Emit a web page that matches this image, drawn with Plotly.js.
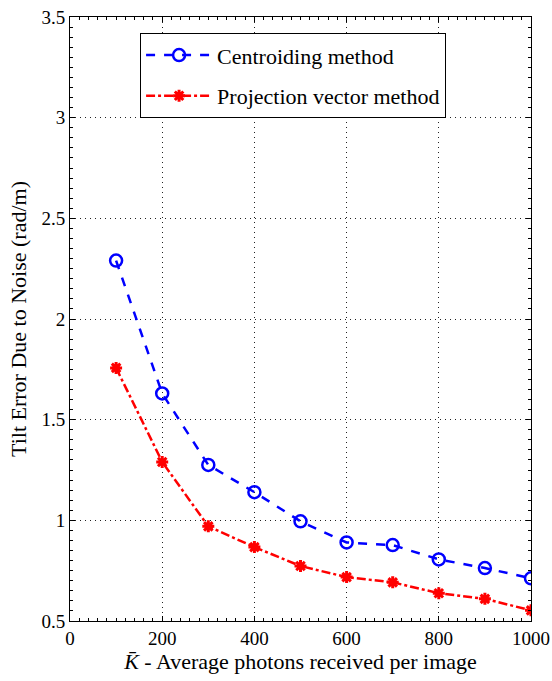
<!DOCTYPE html>
<html><head><meta charset="utf-8">
<script src="https://cdn.plot.ly/plotly-3.0.1.min.js"></script>
<style>html,body{margin:0;padding:0;background:#fff}#c{width:552px;height:681px}</style>
</head><body><div id="c"></div>
<script>
const photons = [100,200,300,400,500,600,700,800,900,1000];
const centroiding = [2.29,1.63,1.275,1.14,0.995,0.89,0.877,0.806,0.763,0.712];
const projection = [1.757,1.29,0.97,0.867,0.773,0.718,0.692,0.638,0.61,0.553];
const xTicks = [0,200,400,600,800,1000];
const yTicks = [0.5,1,1.5,2,2.5,3,3.5];
const fontFam = '"Liberation Serif", "DejaVu Serif", serif';

const traces = [
 {x: photons, y: centroiding, name: 'Centroiding method', mode:'lines+markers', legendgroup:'a',
  line:{color:'#0000ff', width:2.5, dash:'dash'},
  marker:{symbol:'circle-open', size:12, color:'#0000ff', line:{width:2.5, color:'#0000ff'}}},
 {x: photons, y: projection, name: 'Projection vector method', mode:'lines+markers', legendgroup:'b',
  line:{color:'#ff0000', width:2.5, dash:'dashdot'},
  marker:{symbol:'asterisk-open', size:10, color:'#ff0000', line:{width:3, color:'#ff0000'}}}
];
const axisCommon = {
  showline:true, mirror:'ticks', linecolor:'#000', linewidth:1,
  ticks:'inside', ticklen:5, tickcolor:'#000',
  showgrid:true, gridcolor:'#222', griddash:'1px,4px', gridwidth:1,
  zeroline:false, tickfont:{family:fontFam, size:19, color:'#000'}
};
const layout = {
  width:552, height:681,
  margin:{l:70, r:21, t:17, b:60},
  paper_bgcolor:'#fff', plot_bgcolor:'#fff',
  font:{family:fontFam, color:'#000'},
  showlegend:true,
  legend:{x:0.152, y:0.973, xanchor:'left', yanchor:'top', bordercolor:'#000', borderwidth:1,
    bgcolor:'#fff', font:{family:fontFam, size:22, color:'#000'}, tracegroupgap:9, itemwidth:66},
  xaxis: Object.assign({}, axisCommon, {range:[0,1000], tickvals:xTicks,
    minor:{ticks:'inside', ticklen:3, dtick:20, tickcolor:'#000', showgrid:false},
    title:{text:'<i>K̄</i> - Average photons received per image', font:{family:fontFam, size:22}, standoff:5}}),
  yaxis: Object.assign({}, axisCommon, {range:[0.5,3.5], tickvals:yTicks,
    minor:{ticks:'inside', ticklen:3, dtick:0.05, tickcolor:'#000', showgrid:false},
    title:{text:'Tilt Error Due to Noise (rad/m)', font:{family:fontFam, size:22}, standoff:8}})
};
Plotly.newPlot('c', traces, layout, {displayModeBar:false});
</script></body></html>
